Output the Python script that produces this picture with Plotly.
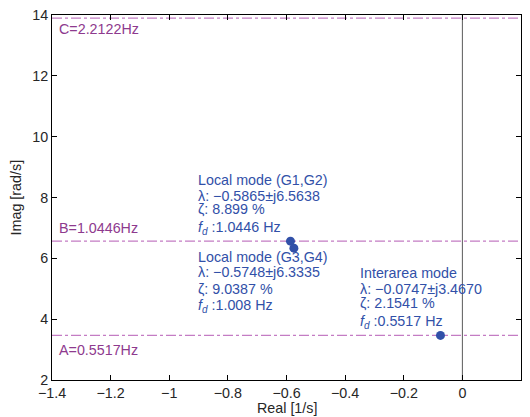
import plotly.graph_objects as go

# --- data ---
eig_real = [-0.5865, -0.5748, -0.0747]
eig_imag = [6.5638, 6.3335, 3.4670]
ref_names = ["C=2.2122Hz", "B=1.0446Hz", "A=0.5517Hz"]
ref_freq_hz = [2.2122, 1.0446, 0.5517]
ref_imag = [13.899, 6.5638, 3.4670]
mode_titles = ["Local mode (G1,G2)", "Local mode (G3,G4)", "Interarea mode"]
mode_lambda = ["\u22120.5865\u00b1j6.5638", "\u22120.5748\u00b1j6.3335", "\u22120.0747\u00b1j3.4670"]
mode_zeta = ["8.899 %", "9.0387 %", "2.1541 %"]
mode_fd = ["1.0446 Hz", "1.008 Hz", "0.5517 Hz"]
x_ticks = [-1.4, -1.2, -1.0, -0.8, -0.6, -0.4, -0.2, 0.0, 0.2]
x_ticktext = ["\u22121.4", "\u22121.2", "\u22121", "\u22120.8", "\u22120.6", "\u22120.4", "\u22120.2", "0", "0.2"]
y_ticks = [2, 4, 6, 8, 10, 12, 14]
y_ticktext = ["2", "4", "6", "8", "10", "12", "14"]

FONT = "Liberation Sans, Arial, Helvetica, sans-serif"
FS = 14.3
LINE_PURPLE = "#c47cc4"
TEXT_PURPLE = "#8e3a8e"
BLUE = "#3150a8"
AXTXT = "#262626"
XMIN, XMAX = -1.4, 0.2
YMIN, YMAX = 2, 14

fig = go.Figure()

# reference lines (dash-dot)
for yv in ref_imag:
    fig.add_trace(go.Scatter(x=[XMIN, XMAX], y=[yv, yv], mode="lines",
                             line=dict(color=LINE_PURPLE, width=1.3, dash="10px,3px,3px,3px"),
                             hoverinfo="skip", showlegend=False))

# imaginary axis
fig.add_trace(go.Scatter(x=[0, 0], y=[YMIN, YMAX], mode="lines",
                         line=dict(color="#5a5a5a", width=1),
                         hoverinfo="skip", showlegend=False))

# eigenvalues
fig.add_trace(go.Scatter(x=eig_real, y=eig_imag, mode="markers",
                         marker=dict(color=BLUE, size=9),
                         showlegend=False))

# reference labels
label_pos_y = [13.54, 7.0, 2.99]
for name, yl in zip(ref_names, label_pos_y):
    fig.add_annotation(x=-1.378, y=yl, text=name, showarrow=False, borderpad=0,
                       xanchor="left", yanchor="middle",
                       font=dict(family=FONT, size=FS, color=TEXT_PURPLE))

# mode annotations (one text per line, MATLAB-like tight spacing)
block_x = [-0.905, -0.905, -0.354]
block_line_y = [[8.58, 8.05, 7.62, 7.00],
                [6.05, 5.55, 4.99, 4.44],
                [5.52, 4.99, 4.53, 3.91]]
for bx, ys, t, lam, z, fd in zip(block_x, block_line_y, mode_titles, mode_lambda, mode_zeta, mode_fd):
    lines = [t, f"\u03bb: {lam}", f"\u03b6: {z}", f"<i>f</i><sub><i>d</i></sub> :{fd}"]
    for ly, txt in zip(ys, lines):
        fig.add_annotation(x=bx, y=ly, text=txt, showarrow=False, borderpad=0,
                           xanchor="left", yanchor="middle",
                           font=dict(family=FONT, size=FS, color=BLUE))

# axis titles
fig.add_annotation(xref="paper", yref="paper", x=-0.077, y=0.5, text="Imag [rad/s]",
                   textangle=-90, showarrow=False, xanchor="center", yanchor="middle",
                   font=dict(family=FONT, size=FS, color=AXTXT))
fig.add_annotation(xref="paper", yref="paper", x=0.5, y=-0.078, text="Real [1/s]",
                   showarrow=False, xanchor="center", yanchor="middle",
                   font=dict(family=FONT, size=FS, color=AXTXT))

axis_common = dict(showline=True, linecolor="black", linewidth=1, mirror="ticks",
                   ticks="inside", ticklen=5, tickcolor="black", showgrid=False,
                   zeroline=False, automargin=False,
                   tickfont=dict(family=FONT, size=FS, color=AXTXT))

fig.update_xaxes(range=[XMIN, XMAX], tickvals=x_ticks, ticktext=x_ticktext, **axis_common)
fig.update_yaxes(range=[YMIN, YMAX], tickvals=y_ticks, ticktext=y_ticktext, **axis_common)

fig.update_layout(width=530, height=417,
                  margin=dict(l=52, r=9, t=15, b=37),
                  plot_bgcolor="white", paper_bgcolor="white",
                  font=dict(family=FONT))

fig.write_html("out.html", config={"displayModeBar": False},
               post_script="document.body.style.margin='0';")
